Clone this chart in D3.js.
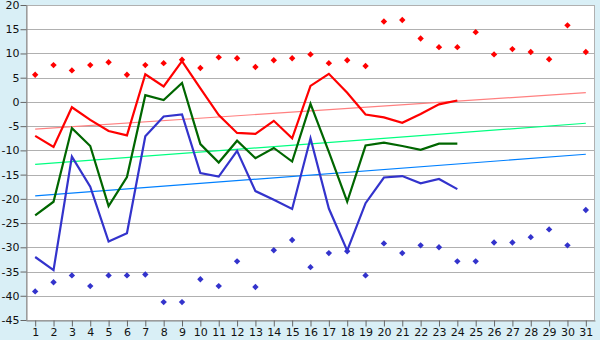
<!DOCTYPE html>
<html>
<head>
<meta charset="utf-8">
<script src="https://cdn.jsdelivr.net/npm/d3@7"></script>
<style>
  html, body { margin: 0; padding: 0; background: #d9eff6; }
  svg { display: block; }
  text { font-family: "DejaVu Sans", Verdana, sans-serif; font-size: 11px; fill: #111; }
</style>
</head>
<body>
<svg id="chart" width="600" height="340"></svg>
<script>
// Days of the month
const days = d3.range(1, 32);

// Daily maximum, mean and minimum temperature (days 1–24)
const tMax = [-7.0, -9.3, -1.1, -3.7, -6.0, -6.9, 5.7, 3.2, 8.4, 2.8, -2.7, -6.4, -6.6, -3.9, -7.5, 3.3,
              5.8, 1.9, -2.6, -3.2, -4.3, -2.5, -0.5, 0.3];
const tMean = [-23.4, -20.6, -5.4, -9.1, -21.5, -15.5, 1.4, 0.4, 3.9, -8.7, -12.5, -8.0, -11.6, -9.5, -12.3, -0.4,
               -10.3, -20.6, -9.0, -8.4, -9.1, -9.9, -8.6, -8.6];
const tMin = [-32.0, -34.7, -11.3, -17.5, -28.8, -27.1, -7.1, -3.0, -2.6, -14.7, -15.4, -10.1, -18.4, -20.2, -22.1, -7.5,
              -22.0, -30.7, -20.9, -15.6, -15.3, -16.8, -15.9, -18.0];

// Record highs and lows for each day
const recordHigh = [5.6, 7.6, 6.5, 7.6, 8.2, 5.6, 7.6, 8.0, 8.7, 7.0, 9.2, 9.0, 7.2, 8.6, 9.0, 9.8,
                    8.0, 8.6, 7.4, 16.6, 16.9, 13.1, 11.3, 11.3, 14.4, 9.8, 10.9, 10.3, 8.8, 15.8, 10.3];
const recordLow = [-39.1, -37.2, -35.8, -38.0, -35.8, -35.8, -35.6, -41.3, -41.3, -36.6, -38.0, -32.9, -38.2, -30.6, -28.5, -34.1,
                   -31.2, -30.8, -35.8, -29.2, -31.2, -29.6, -30.0, -32.9, -32.9, -29.0, -29.0, -27.9, -26.3, -29.6, -22.3];

// Long-term normal trend lines (start of month, end of month)
const normalMax = [-5.6, 1.9];
const normalMean = [-12.9, -4.4];
const normalMin = [-19.4, -10.8];

const yTicks = d3.range(-45, 21, 5);

const svg = d3.select("#chart");
const plot = { left: 26, right: 595, top: 5, bottom: 320 };

const x = d3.scalePoint().domain(days).range([plot.left, plot.right]).padding(0.5);
const y = d3.scaleLinear().domain([-45, 20]).range([plot.bottom, plot.top]);

// Plot area
svg.append("rect")
  .attr("x", plot.left).attr("y", plot.top)
  .attr("width", plot.right - plot.left).attr("height", plot.bottom - plot.top)
  .attr("fill", "#ffffff");

// Horizontal gridlines
svg.append("g")
  .selectAll("line")
  .data(yTicks)
  .join("line")
  .attr("x1", plot.left).attr("x2", plot.right)
  .attr("y1", d => Math.round(y(d)) + 0.5).attr("y2", d => Math.round(y(d)) + 0.5)
  .attr("stroke", "#b0b0b0").attr("stroke-width", 1);

// Frame
svg.append("rect")
  .attr("x", plot.left + 0.5).attr("y", plot.top + 0.5)
  .attr("width", plot.right - plot.left - 1).attr("height", plot.bottom - plot.top)
  .attr("fill", "none").attr("stroke", "#b0b0b0");

// Axes (plain hyphen for negative numbers)
const fmt = d => String(d);
const yAxis = d3.axisLeft(y).tickValues(yTicks).tickFormat(fmt).tickSize(6).tickSizeOuter(0).tickPadding(1);
const gy = svg.append("g").attr("transform", `translate(${plot.left + 0.5},0)`).call(yAxis);
gy.select(".domain").attr("stroke", "#888");
gy.selectAll(".tick line").attr("stroke", "#666");
gy.selectAll(".tick text").attr("fill", "#111").style("font-size", "11px")
  .style("font-family", "'DejaVu Sans', Verdana, sans-serif");

const xAxis = d3.axisBottom(x).tickFormat(fmt).tickSize(6).tickSizeOuter(0).tickPadding(2);
const gx = svg.append("g").attr("transform", `translate(0,${plot.bottom + 0.5})`).call(xAxis);
gx.select(".domain").attr("stroke", "#888");
gx.selectAll(".tick line").attr("stroke", "#666");
gx.selectAll(".tick text").attr("fill", "#111").style("font-size", "11px")
  .style("font-family", "'DejaVu Sans', Verdana, sans-serif");

// Normal trend lines
const trends = [
  { v: normalMax, color: "#ff8080" },
  { v: normalMean, color: "#00ff80" },
  { v: normalMin, color: "#0080ff" }
];
svg.append("g").selectAll("line")
  .data(trends)
  .join("line")
  .attr("x1", x(days[0])).attr("x2", x(days[days.length - 1]))
  .attr("y1", d => y(d.v[0])).attr("y2", d => y(d.v[1]))
  .attr("stroke", d => d.color).attr("stroke-width", 1.2);

// Daily series
const line = d3.line().x((d, i) => x(days[i])).y(d => y(d));
const series = [
  { v: tMax, color: "#ff0000" },
  { v: tMean, color: "#006600" },
  { v: tMin, color: "#3333cc" }
];
svg.append("g").selectAll("path")
  .data(series)
  .join("path")
  .attr("d", d => line(d.v))
  .attr("fill", "none")
  .attr("stroke", d => d.color)
  .attr("stroke-width", 2.2)
  .attr("stroke-linejoin", "miter");

// Record markers (small square diamonds)
const diamond = d3.symbol().type(d3.symbolDiamond2).size(26);
function markers(values, color) {
  svg.append("g").selectAll("path")
    .data(values)
    .join("path")
    .attr("d", diamond)
    .attr("transform", (d, i) => `translate(${x(days[i])},${y(d)})`)
    .attr("fill", color);
}
markers(recordHigh, "#ff0000");
markers(recordLow, "#3333cc");
</script>
</body>
</html>
